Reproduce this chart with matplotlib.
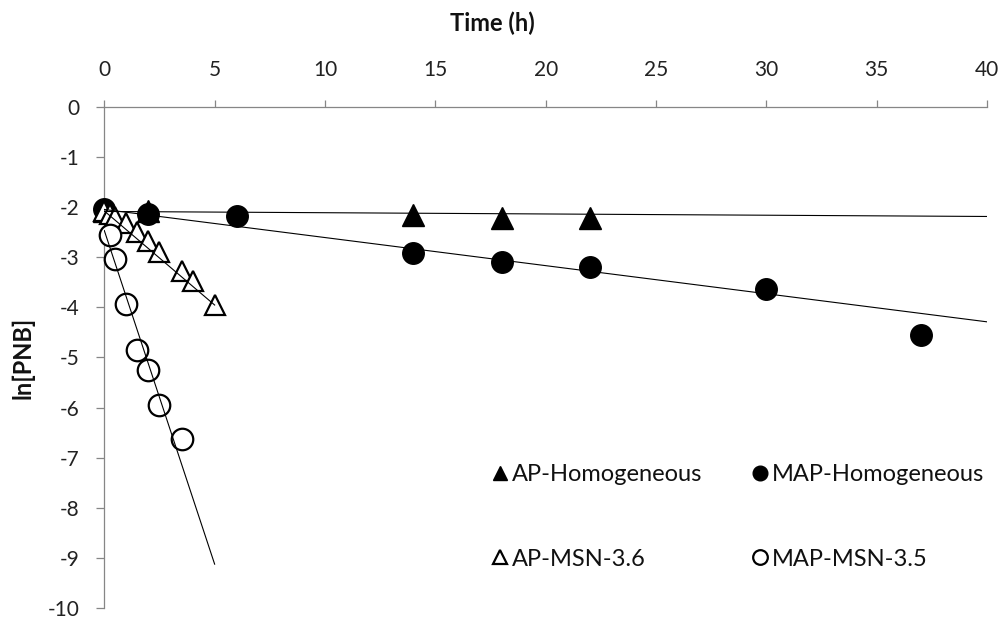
import matplotlib
matplotlib.use('Agg')
import matplotlib.pyplot as plt
import numpy as np

plt.rcParams['font.family'] = ['Lato', 'DejaVu Sans']

# ---- data ----
ap_hom_t = [0, 2, 14, 18, 22]
ap_hom_y = [-2.08, -2.08, -2.16, -2.22, -2.22]

map_hom_t = [0, 2, 6, 14, 18, 22, 30, 37]
map_hom_y = [-2.04, -2.14, -2.19, -2.92, -3.10, -3.20, -3.64, -4.56]

ap_msn_t = [0, 0.25, 0.5, 1, 1.5, 2, 2.5, 3.5, 4, 5]
ap_msn_y = [-2.08, -2.15, -2.2, -2.32, -2.5, -2.68, -2.9, -3.28, -3.47, -3.95]

map_msn_t = [0.25, 0.5, 1, 1.5, 2, 2.5, 3.5]
map_msn_y = [-2.56, -3.04, -3.93, -4.86, -5.26, -5.95, -6.63]

# linear trendlines: intercept, slope, t range
ap_hom_fit = (-2.09, -0.0025, 0, 40)
map_hom_fit = (-2.05, -0.056, 0, 40)
ap_msn_fit = (-2.08, -0.375, 0, 5)
map_msn_fit = (-2.47, -1.33, 0, 5)

labels = ['AP-Homogeneous', 'MAP-Homogeneous', 'AP-MSN-3.6', 'MAP-MSN-3.5']
x_ticks = [0, 5, 10, 15, 20, 25, 30, 35, 40]
y_ticks = [0, -1, -2, -3, -4, -5, -6, -7, -8, -9, -10]

W, H = 1007, 623
fig = plt.figure(figsize=(W / 100, H / 100), dpi=100)
ax = fig.add_axes([104.3 / W, (H - 608.3) / H, (987 - 104.3) / W, (608.3 - 106.6) / H])

ms = 15.5
h_ap_hom, = ax.plot(ap_hom_t, ap_hom_y, ls='none', marker='^', ms=ms, mfc='black', mec='black', clip_on=False, zorder=3)
h_map_hom, = ax.plot(map_hom_t, map_hom_y, ls='none', marker='o', ms=ms, mfc='black', mec='black', clip_on=False, zorder=3)
h_ap_msn, = ax.plot(ap_msn_t, ap_msn_y, ls='none', marker='^', ms=ms - 1, mfc='white', mec='black', mew=1.6, clip_on=False, zorder=4)
h_map_msn, = ax.plot(map_msn_t, map_msn_y, ls='none', marker='o', ms=ms, mfc='white', mec='black', mew=1.6, clip_on=False, zorder=4)

for b0, b1, t0, t1 in [ap_hom_fit, map_hom_fit, ap_msn_fit, map_msn_fit]:
    tt = np.array([t0, t1])
    ax.plot(tt, b0 + b1 * tt, color='black', lw=0.8, zorder=5)

ax.set_xlim(0, 40)
ax.set_ylim(-10, 0)
ax.set_xticks(x_ticks)
ax.set_yticks(y_ticks)
ax.set_yticklabels([str(v) for v in y_ticks])
ax.xaxis.tick_top()
for s in ['bottom', 'right']:
    ax.spines[s].set_visible(False)
for s in ['left', 'top']:
    ax.spines[s].set_color('#868686')
    ax.spines[s].set_linewidth(0.9)
ax.tick_params(axis='x', direction='out', length=5, width=0.9, color='#868686', pad=14,
               labelsize=15, labelcolor='#222222')
ax.tick_params(axis='y', direction='out', length=6, width=0.9, color='#868686', pad=12,
               labelsize=15, labelcolor='#222222')

fig.text(492 / W, 1 - 23 / H, 'Time (h)', ha='center', va='center', fontweight='bold', fontsize=17, color='#111111')
fig.text(23 / W, 1 - 358 / H, 'ln[PNB]', ha='center', va='center', rotation=90, fontweight='bold', fontsize=17, color='#111111')

leg = ax.legend([h_ap_hom, h_ap_msn, h_map_hom, h_map_msn],
                [labels[0], labels[2], labels[1], labels[3]],
                ncol=2, loc='upper left', bbox_to_anchor=(491 / W, 1 - 464 / H),
                bbox_transform=fig.transFigure, frameon=False, markerscale=0.68,
                handlelength=0.75, handletextpad=0.15, columnspacing=2.05,
                labelspacing=2.7, fontsize=17, borderpad=0, borderaxespad=0)
for t in leg.get_texts():
    t.set_color('#111111')

fig.savefig('out.png', dpi=100)
